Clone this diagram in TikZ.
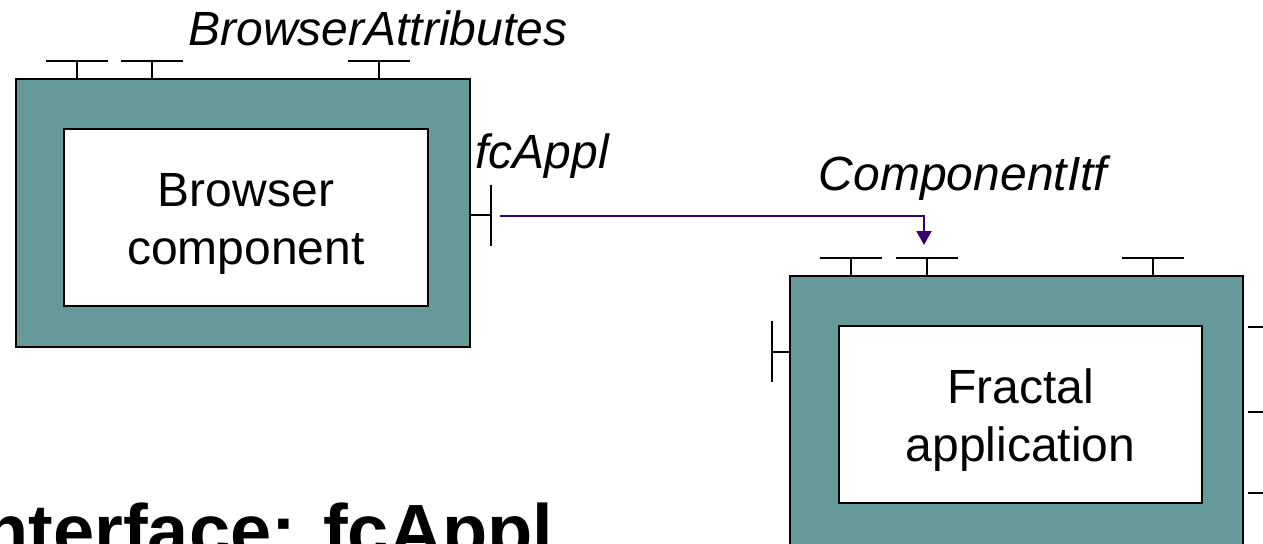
\documentclass[tikz,border=0pt]{standalone}
\usepackage{fontspec}
\setmainfont{Liberation Sans}
\usetikzlibrary{arrows.meta}
\definecolor{compteal}{HTML}{669999}
\definecolor{arrowpurple}{HTML}{3A006E}
\begin{document}
\begin{tikzpicture}[x=0.5pt,y=-0.5pt,
  outerbox/.style={draw=black, line width=1pt, fill=compteal, rectangle, inner sep=0pt},
  innerbox/.style={draw=black, line width=1pt, fill=white, rectangle, inner sep=0pt},
  port/.style={draw=black, line width=0.75pt},
  lbl/.style={font=\fontsize{24}{29}\selectfont\itshape, inner sep=0pt, anchor=base},
  boxtext/.style={font=\fontsize{24}{29}\selectfont, align=center, inner sep=0pt},
  connector/.style={draw=arrowpurple, line width=1pt, -{Triangle[width=7.5pt,length=7pt]}}]
\useasboundingbox (0,0) rectangle (1263,543);
\clip (0,0) rectangle (1263,543);
% Browser component
\foreach \x in {77,152,379} \draw[port] (\x-31,61) -- (\x+31,61) (\x,61) -- (\x,79);
\draw[port] (470,215) -- (491,215) (491,185) -- (491,246);
\node[outerbox, minimum width=227pt, minimum height=134pt] (bout) at (243,213) {};
\node[innerbox, minimum width=182pt, minimum height=88.5pt] (bin) at (246,217.5) {};
\node[boxtext] (btxt) at (246,224) {Browser\\component};
% Fractal application
\foreach \x in {851,927,1153} \draw[port] (\x-31,258) -- (\x+31,258) (\x,258) -- (\x,276);
\draw[port] (790,352) -- (772,352) (772,321) -- (772,382);
\foreach \y in {327,412,493} \draw[port] (1248,\y) -- (1275,\y);
\node[outerbox, minimum width=226.5pt, minimum height=150pt] (fout) at (1016.5,426) {};
\node[innerbox, minimum width=181.5pt, minimum height=88.5pt] (fin) at (1020.5,414.5) {};
\node[boxtext] (ftxt) at (1020.5,420) {Fractal\\application};
% binding
\coordinate (pfc) at (500,216);
\coordinate (pci) at (924,245);
\draw[connector] (pfc) -| (pci);
% labels
\node[lbl] (lba) at (378,45) {BrowserAttributes};
\node[lbl] (lfc) at (542,168) {fcAppl};
\node[lbl] (lci) at (963,190) {ComponentItf};
\node[font=\fontsize{37}{44}\selectfont\bfseries, inner sep=0pt, anchor=base east] (title) at (554,556) {Interface: fcAppl};
\end{tikzpicture}
\end{document}
